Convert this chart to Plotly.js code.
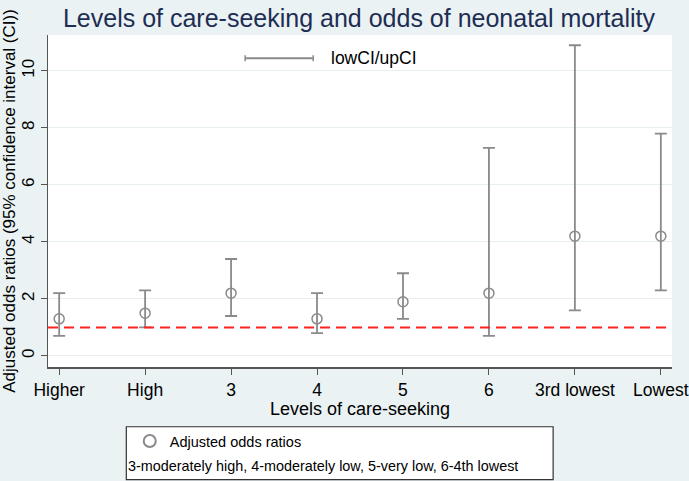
<!DOCTYPE html>
<html><head><meta charset="utf-8">
<script src="https://cdn.plot.ly/plotly-3.0.1.min.js"></script>
<style>body{margin:0;padding:0;}#chart{width:689px;height:481px;}</style>
</head><body><div id="chart"></div>
<script>
var categories = ["Higher", "High", "3", "4", "5", "6", "3rd lowest", "Lowest"];
var oddsRatios = [1.3, 1.5, 2.2, 1.3, 1.9, 2.2, 4.2, 4.2];
var lowCI = [0.7, 1.0, 1.4, 0.8, 1.3, 0.7, 1.6, 2.3];
var upCI = [2.2, 2.3, 3.4, 2.2, 2.9, 7.3, 10.9, 7.8];
var yTicks = [0, 2, 4, 6, 8, 10];
var referenceLine = 1;

var idx = categories.map(function(_, i){ return i; });
var grey = '#8a8a8a';
var font = 'Liberation Sans, Arial, Helvetica, sans-serif';

var trace = {
  x: idx, y: oddsRatios, type: 'scatter', mode: 'markers',
  name: 'Adjusted odds ratios',
  marker: {symbol: 'circle-open', size: 10, color: grey, line: {width: 1.5, color: grey}},
  error_y: {type: 'data', symmetric: false,
    array: upCI.map(function(u, i){ return u - oddsRatios[i]; }),
    arrayminus: lowCI.map(function(l, i){ return oddsRatios[i] - l; }),
    color: grey, thickness: 1.8, width: 6},
  showlegend: true, cliponaxis: false
};

var layout = {
  width: 689, height: 481,
  margin: {l: 48, r: 17, t: 35, b: 114},
  paper_bgcolor: '#eaf2f3', plot_bgcolor: '#ffffff',
  font: {family: font, color: '#000'},
  title: {text: 'Levels of care-seeking and odds of neonatal mortality',
    font: {size: 25, color: '#1e2d53', family: font}, x: 0.521, xanchor: 'center', y: 0.962, yanchor: 'middle'},
  xaxis: {
    range: [-0.13, 7.13], tickvals: idx, ticktext: categories,
    showgrid: false, zeroline: false, showline: true, linecolor: '#555', linewidth: 1.5,
    ticks: 'outside', ticklen: 6, tickcolor: '#555', tickfont: {size: 17.5},
    title: {text: 'Levels of care-seeking', font: {size: 18}, standoff: 2}
  },
  yaxis: {
    range: [-0.39, 11.26], tickvals: yTicks, tickangle: -90,
    showgrid: true, gridcolor: '#e6eef0', gridwidth: 1, zeroline: false,
    showline: true, linecolor: '#555', linewidth: 1.5,
    ticks: 'outside', ticklen: 6, tickcolor: '#555', tickfont: {size: 17},
    title: {text: 'Adjusted odds ratios (95% confidence interval (CI))', font: {size: 17}, standoff: 3}
  },
  showlegend: true,
  legend: {x: 0.131, y: -0.223, xanchor: 'left', yanchor: 'middle', bgcolor: 'rgba(0,0,0,0)',
    font: {size: 14.5}, itemsizing: 'constant', borderwidth: 0},
  shapes: [
    {type: 'line', xref: 'paper', x0: 0, x1: 1, yref: 'y', y0: referenceLine, y1: referenceLine,
      line: {color: '#ff2020', width: 2, dash: '10px,6px'}},
    {type: 'line', xref: 'paper', yref: 'paper', x0: 0.316, x1: 0.425, y0: 0.93, y1: 0.93, line: {color: grey, width: 1.8}},
    {type: 'line', xref: 'paper', yref: 'paper', x0: 0.316, x1: 0.316, y0: 0.921, y1: 0.939, line: {color: grey, width: 1.5}},
    {type: 'line', xref: 'paper', yref: 'paper', x0: 0.425, x1: 0.425, y0: 0.921, y1: 0.939, line: {color: grey, width: 1.5}},
    {type: 'rect', xref: 'paper', yref: 'paper', x0: 0.1255, x1: 0.8095, y0: -0.18, y1: -0.339,
      fillcolor: '#ffffff', line: {color: '#333', width: 1.2}, layer: 'below'}
  ],
  annotations: [
    {xref: 'paper', yref: 'paper', x: 0.450, y: 0.93, xanchor: 'left', yanchor: 'middle',
      text: 'lowCI/upCI', showarrow: false, font: {size: 17.5}},
    {xref: 'paper', yref: 'paper', x: 0.1255, y: -0.297, xanchor: 'left', yanchor: 'middle',
      text: '3-moderately high, 4-moderately low, 5-very low, 6-4th lowest', showarrow: false, font: {size: 14.4}}
  ]
};

Plotly.newPlot('chart', [trace], layout, {displayModeBar: false, staticPlot: true});
</script></body></html>
